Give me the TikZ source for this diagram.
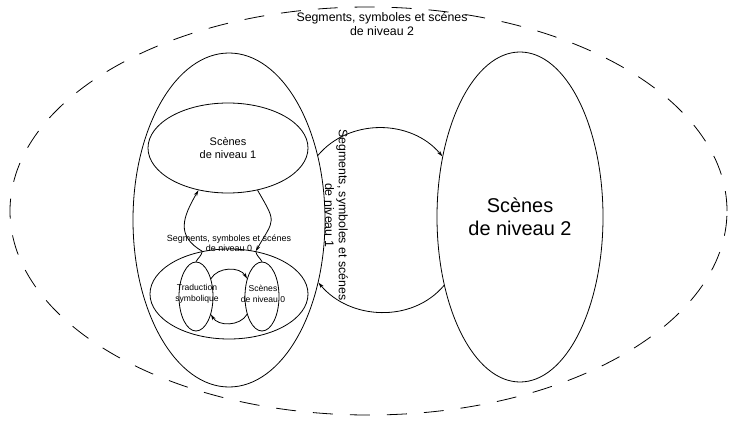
\documentclass[tikz,border=0pt]{standalone}
\usepackage{fontspec}
\setmainfont{Liberation Sans}
\usetikzlibrary{shapes.geometric, arrows.meta}
\tikzset{every node/.append style={align=center, inner sep=0pt}}

\begin{document}
\begin{tikzpicture}[
    x=1bp, y=1bp, line width=0.8bp,
    ell/.style={ellipse, draw, inner sep=0pt},
    petit/.style={font=\fontsize{9}{10}\selectfont},
    moyen/.style={font=\fontsize{12.4}{14}\selectfont},
    a/.style={-{Stealth[length=6bp, width=3.5bp]}}
]
\useasboundingbox (0,0) rectangle (729,420);
% niveau 2
\node[ell, dashed, dash pattern=on 20bp off 17bp,
      minimum width=717bp, minimum height=408bp] (monde) at (368.5,209) {};
\node[moyen] (titre2) at (382,396) {Segments, symboles et scénes\\de niveau 2};
\node[ell, minimum width=166bp, minimum height=330bp,
      font=\fontsize{20}{23}\selectfont] (scn2) at (520,203) {Scènes\\de niveau 2};
% bloc de niveau 1
\node[ell, minimum width=192bp, minimum height=334bp] (bloc1) at (229,200) {};
\node[ell, minimum width=160bp, minimum height=90bp,
      font=\fontsize{11}{14}\selectfont] (scn1) at (228,272) {Scènes\\de niveau 1};
\node[ell, minimum width=158bp, minimum height=90bp] (niv0) at (229,126) {};
\node[petit] (titre0) at (229,177) {Segments, symboles et scénes\\de niveau 0};
\node[moyen, rotate=-90] (titre1) at (336.5,205) {Segments, symboles et scénes\\de niveau 1};
% niveau 0
\node[ell, minimum width=34bp, minimum height=69bp] (trad) at (196,123.5) {};
\node[ell, minimum width=34bp, minimum height=69bp] (scn0) at (262,123.5) {};
\node[font=\fontsize{8.6}{11}\selectfont] (trad-t) at (197,126) {Traduction\\symbolique};
\node[font=\fontsize{8.6}{11}\selectfont] (scn0-t) at (263,126) {Scènes\\de niveau 0};
% fleches
\draw[a] (trad.50) to[out=60, in=120] (scn0.130);
\draw[a] (scn0.230) to[out=-120, in=-60] (trad.310);
\draw (trad.north) to[out=60, in=-100] (niv0.122);
\draw[a] (niv0.122) to[out=150, in=-120, looseness=1.3] (scn1.235);
\draw[a] (scn1.305) to[out=-60, in=60, looseness=1.6] (niv0.58);
\draw (niv0.58) to[out=-80, in=120] (scn0.north);
\draw[a] (bloc1.36) to[out=50, in=130] (scn2.142);
\draw[a] (scn2.222) to[out=-130, in=-50] (bloc1.-35);
\end{tikzpicture}
\end{document}
